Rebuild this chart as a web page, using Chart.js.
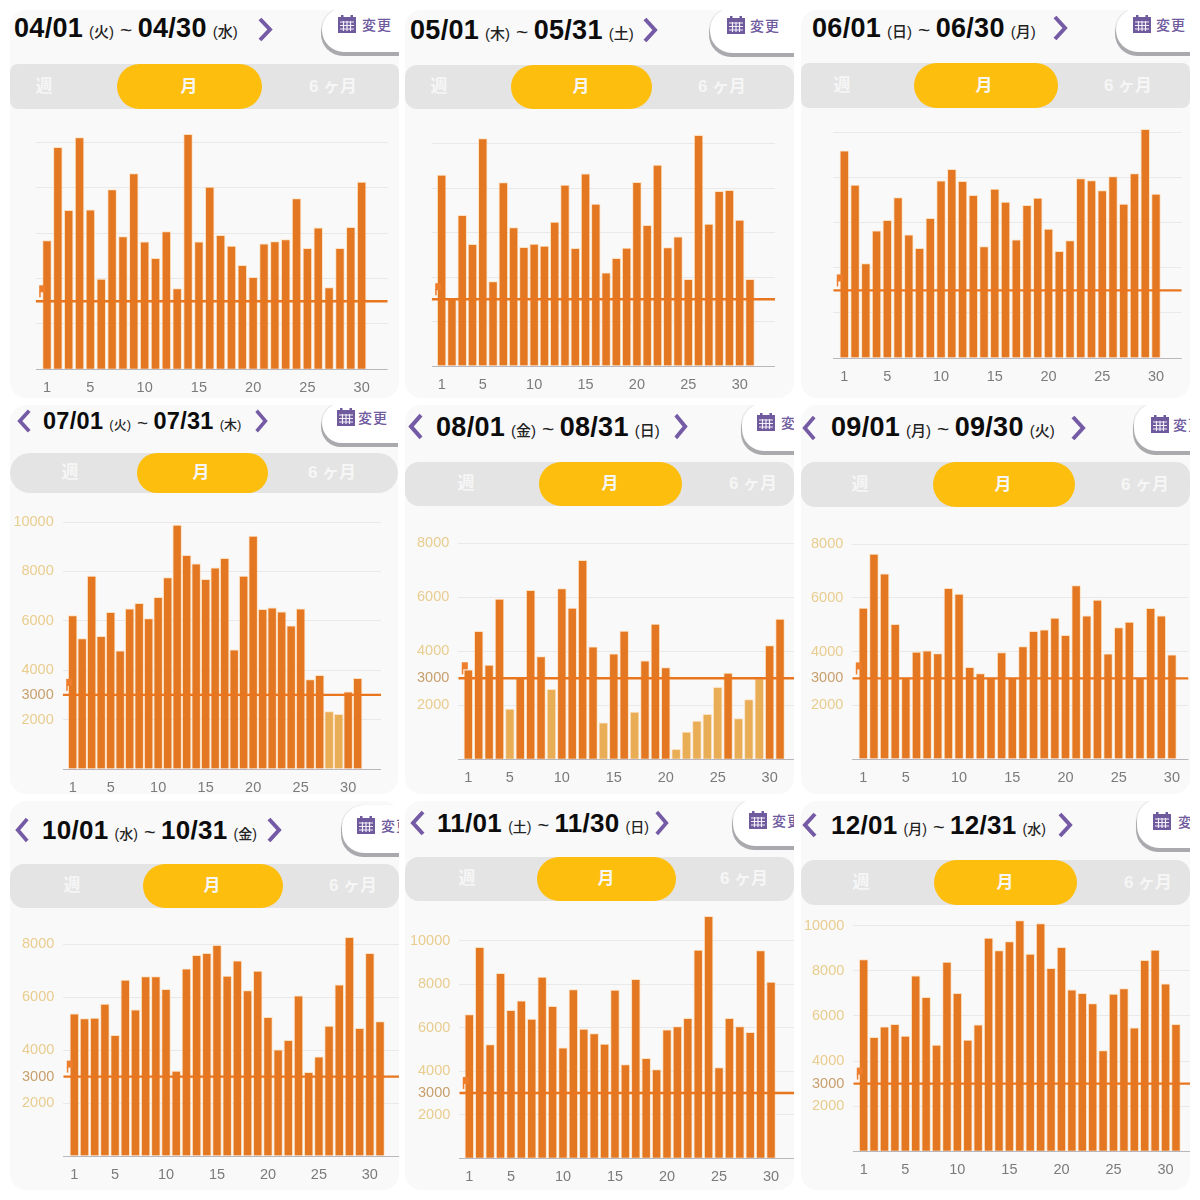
<!DOCTYPE html>
<html>
<head>
<meta charset="utf-8">
<script src="https://cdn.jsdelivr.net/npm/chart.js@4"></script>
<style>
  html, body { margin: 0; padding: 0; background: #fff; }
  body { width: 1200px; height: 1200px; position: relative; overflow: hidden; font-family: "Liberation Sans", "Noto Sans CJK JP", sans-serif; }
  .card { position: absolute; background: #f9f9f9; border-radius: 16px; overflow: hidden; }
  .card > * { position: absolute; }
  .title { white-space: nowrap; color: #0c0c0c; font-weight: 700; letter-spacing: 0.3px; }
  .title .w { font-weight: 500; margin: 0 6px; color: #222; letter-spacing: 0; }
  .title .t { font-weight: 400; color: #222; }
  .tabs { background: #e4e4e4; }
  .pill { background: #fdbe0e; border-radius: 24px; }
  .lbl { color: #f6f6f6; font-size: 17px; transform: translateX(-50%); white-space: nowrap; font-weight: 700; }
  .btn { background: #fff; box-shadow: -1px 4px 0 #aaa9ad, -1px 0 1px #ddd; border-radius: 22px 0 0 22px; }
  .chg { color: #6f5a9e; font-size: 14px; font-weight: 500; white-space: nowrap; letter-spacing: 1px; }
  canvas { left: 0; top: 0; }
</style>
</head>
<body>
<script>
// steps per day
const apr = [5680,9790,7010,10220,7030,3985,7930,5850,8630,5620,4900,6070,3560,10370,5620,8040,5910,5440,4590,4060,5540,5630,5720,7530,5340,6240,3600,5340,6260,8260]
const may = [8580,3020,6770,5470,10220,3790,8240,6220,5330,5480,5390,6470,8130,5290,8640,7280,4190,4840,5300,8250,6320,9030,5320,5800,3900,10370,6380,7850,7900,6560,3900]
const jun = [9190,7680,4190,5650,6110,7120,5470,4870,6200,7860,8370,7840,7220,4940,7500,6920,5240,6780,7100,5720,4730,5210,7960,7870,7430,8050,6830,8180,10150,7280]
const jul = [6210,5280,7810,5370,6340,4780,6480,6710,6090,6950,7750,9880,8650,8310,7680,8140,8530,4820,7810,9430,6460,6530,6360,5800,6480,3620,3790,2320,2210,3120,3670]
const aug = [3310,4740,3490,5930,1860,3000,6260,3800,2590,6320,5600,7370,4170,1350,3910,4750,1750,3650,5010,3400,370,1010,1420,1670,2670,3190,1510,2210,2990,4210,5190]
const sep = [5620,7630,6890,5010,3040,3980,4030,3920,6350,6140,3410,3180,3040,3960,3040,4180,4750,4810,5240,4600,6450,5330,5910,3910,4890,5100,3040,5610,5330,3880]
const oct = [5370,5190,5210,5740,4560,6650,5520,6780,6780,6300,3210,7070,7580,7660,7960,6800,7370,6250,6990,5240,4010,4370,6050,3160,3750,4910,6470,8260,4820,7660,5080]
const nov = [6600,9690,5220,8500,6800,7230,6400,8330,6980,5080,7750,5930,5730,5250,7730,4300,8220,4590,4070,5900,6050,6430,9560,11120,4170,6430,6050,5790,9540,8090]
const dec = [8490,5050,5520,5630,5100,7770,6820,4710,8380,7000,4930,5600,9450,8890,9290,10220,8740,10090,8110,9040,7150,7000,6540,4460,6970,7210,5470,8460,8920,7420,5630]

const months = [apr, may, jun, jul, aug, sep, oct, nov, dec]
const starts = ['04/01','05/01','06/01','07/01','08/01','09/01','10/01','11/01','12/01']
const ends = ['04/30','05/31','06/30','07/31','08/31','09/30','10/31','11/30','12/31']
const startDays = ['火','木','日','火','金','月','水','土','月']
const endDays = ['水','土','月','木','日','火','金','日','水']
const dayTicks = [1, 5, 10, 15, 20, 25, 30]
const stepTicks = [0, 2000, 3000, 4000, 6000, 8000, 10000]
const goal = 3000

// where each panel sits, in page pixels
const layouts = [
  {card:[10,10,389,388], fs:27, tx:14, ty:28, prev:null, next:[257,17,273,42], btn:[322,8,77,44], ic:[338,15], chg:362, tabs:[64,45,8], pill:[117,262], tl:[44,189,333], plot:[35.7,387.7,369.3,22.67], yMax:11000, x1:141/3, dx:32.55/3, labels:false},
  {card:[405,10,389,388], fs:27, tx:410, ty:30, prev:null, next:[642,17,658,43], btn:[710,8,84,45], ic:[727,16], chg:750, tabs:[65,44,12], pill:[511,652], tl:[439,581,722], plot:[431.7,775,366,22.25], yMax:11000, x1:400+125/3, dx:30.83/3, labels:false},
  {card:[801,10,389,388], fs:27, tx:812, ty:28, prev:null, next:[1052,15,1068,41], btn:[1116,8,74,44], ic:[1133,15], chg:1156, tabs:[63,45,8], pill:[914,1058], tl:[842,984,1128], plot:[833.3,1181.7,358,22.53], yMax:10600, x1:800+133/3, dx:32.24/3, labels:false},
  {card:[10,405,388,389], fs:23.5, tx:43, ty:421, prev:[17,409,32,433], next:[254,409,268,433], btn:[322,403,76,40], ic:[337,408], chg:358, tabs:[453,40,20], pill:[137,268], tl:[70,201,332], plot:[62.7,381,769,24.7], yMax:10300, x1:218/3, dx:28.5/3, labels:true},
  {card:[405,405,389,389], fs:27, tx:436, ty:427, prev:[408,413,424,440], next:[673,413,688,440], btn:[742,403,52,48], ic:[757,413], chg:781, tabs:[462,44,14], pill:[539,682], tl:[466,610,753], plot:[458.3,794.3,759.3,27], yMax:8500, x1:400+205/3, dx:31.2/3, labels:true},
  {card:[801,405,389,389], fs:27, tx:831, ty:427, prev:[802,415,817,441], next:[1070,415,1086,441], btn:[1134,403,56,48], ic:[1151,415], chg:1173, tabs:[462,45,14], pill:[933,1075], tl:[860,1003,1145], plot:[852.3,1190,759,26.87], yMax:8500, x1:800+190/3, dx:32.07/3, labels:true},
  {card:[10,801,389,389], fs:26, tx:42, ty:830, prev:[15,817,30,843], next:[266,817,282,843], btn:[342,805,57,48], ic:[357,816], chg:381, tabs:[864,44,14], pill:[143,283], tl:[72,212,353], plot:[63.3,399,1156,26.47], yMax:8500, x1:223/3, dx:30.57/3, labels:true},
  {card:[405,801,389,389], fs:26, tx:437, ty:823, prev:[410,810,426,836], next:[654,810,669,836], btn:[733,799,61,47], ic:[749,811], chg:772, tabs:[857,44,14], pill:[537,676], tl:[467,606,744], plot:[459.3,794.3,1158.3,21.77], yMax:11500, x1:400+208/3, dx:31.24/3, labels:true},
  {card:[801,801,389,389], fs:26, tx:831, ty:825, prev:[802,812,818,838], next:[1057,812,1073,838], btn:[1137,799,53,49], ic:[1153,812], chg:1178, tabs:[860,45,14], pill:[934,1077], tl:[861,1005,1148], plot:[853.3,1190,1151.3,22.57], yMax:10600, x1:800+191/3, dx:31.23/3, labels:true}
]

const calendarSvg = '<svg width="18" height="18" viewBox="0 0 18 18"><rect x="0" y="2" width="18" height="16" fill="#6f5a9e"/><rect x="3" y="0" width="2.5" height="4" fill="#6f5a9e"/><rect x="12.5" y="0" width="2.5" height="4" fill="#6f5a9e"/><path d="M2 7h14M2 10.5h14M2 14h14M5.5 6v10M9 6v10M12.5 6v10" stroke="#f2eef8" stroke-width="1.2" fill="none"/></svg>'

function put(card, box, className, html, left, top, css) {
  const el = document.createElement('div')
  el.className = className
  el.innerHTML = html || ''
  el.style.left = (left - box[0]) + 'px'
  el.style.top = (top - box[1]) + 'px'
  Object.assign(el.style, css || {})
  card.appendChild(el)
  return el
}

function chevron(card, box, r, flip) {
  const pts = flip ? '13,2 3,13 13,24' : '3,2 13,13 3,24'
  const w = r[2] - r[0], h = r[3] - r[1]
  put(card, box, '', `<svg width="${w}" height="${h}" viewBox="0 0 16 26" preserveAspectRatio="none"><polyline points="${pts}" fill="none" stroke="#755ba5" stroke-width="4"/></svg>`, r[0], r[1])
}

// little flag that sits just over the goal line at the left of each chart
const flagPlugin = {
  id: 'flag',
  afterDatasetsDraw(chart) {
    const ctx = chart.ctx
    const x = chart.chartArea.left + 3.5
    const y = chart.scales.y.getPixelForValue(goal)
    ctx.save()
    ctx.fillStyle = '#ee7d2c'
    ctx.fillRect(x, y - 16, 6, 7)
    ctx.fillRect(x, y - 10, 1.5, 6)
    ctx.restore()
  }
}

months.forEach(function(values, i) {
  const lay = layouts[i]
  const box = lay.card
  const card = document.createElement('div')
  card.className = 'card'
  card.style.cssText = `left:${box[0]}px;top:${box[1]}px;width:${box[2]}px;height:${box[3]}px`
  document.body.appendChild(card)

  const wf = Math.round(lay.fs * 0.55)
  put(card, box, 'title', `${starts[i]}<span class="w" style="font-size:${wf}px">(${startDays[i]})</span><span class="t" style="font-size:${wf + 6}px">~</span><span style="margin-left:5px">${ends[i]}</span><span class="w" style="font-size:${wf}px">(${endDays[i]})</span>`, lay.tx, lay.ty - 20, {fontSize: lay.fs + 'px', height: '40px', lineHeight: '40px'})
  if (lay.prev) chevron(card, box, lay.prev, true)
  chevron(card, box, lay.next, false)

  const b = lay.btn
  put(card, box, 'btn', '', b[0], b[1], {width: (b[2] + 24) + 'px', height: b[3] + 'px'})
  put(card, box, '', calendarSvg, lay.ic[0], lay.ic[1])
  put(card, box, 'chg', '変更', lay.chg, lay.ic[1] - 1)

  const t = lay.tabs
  put(card, box, 'tabs', '', box[0], t[0], {width: box[2] + 'px', height: t[1] + 'px', borderRadius: t[2] + 'px'})
  put(card, box, 'pill', '', lay.pill[0], t[0], {width: (lay.pill[1] - lay.pill[0]) + 'px', height: t[1] + 'px'})
  const tabNames = ['週', '月', '6 ヶ月']
  tabNames.forEach(function(name, k) {
    put(card, box, 'lbl', name, lay.tl[k], t[0], {height: t[1] + 'px', lineHeight: t[1] + 'px'})
  })

  const canvas = document.createElement('canvas')
  canvas.width = box[2]
  canvas.height = box[3]
  canvas.style.width = box[2] + 'px'
  canvas.style.height = box[3] + 'px'
  card.appendChild(canvas)

  const [left, right, base, unit] = lay.plot
  const xMin = 1 + (left - lay.x1) / lay.dx
  const xMax = 1 + (right - lay.x1) / lay.dx
  const plotTop = base - lay.yMax / 1000 * unit

  new Chart(canvas, {
    data: {
      datasets: [
        {
          type: 'line',
          order: 0,
          data: [{x: xMin, y: goal}, {x: xMax, y: goal}],
          borderColor: '#e9761f',
          borderWidth: 2.4,
          pointRadius: 0
        },
        {
          type: 'bar',
          order: 1,
          data: values.map((v, d) => ({x: d + 1, y: v})),
          backgroundColor: values.map(v => v < goal ? '#e8ad55' : '#e37722'),
          borderColor: 'rgba(255,205,150,0.55)',
          borderWidth: 1,
          barThickness: 8.8
        }
      ]
    },
    plugins: [flagPlugin],
    options: {
      responsive: false,
      animation: false,
      events: [],
      layout: {
        padding: {left: 0, top: plotTop - box[1], right: box[0] + box[2] - right, bottom: 0}
      },
      plugins: {legend: {display: false}, tooltip: {enabled: false}},
      scales: {
        x: {
          type: 'linear',
          offset: false,
          min: xMin,
          max: xMax,
          grid: {display: false, drawTicks: false},
          border: {display: false},
          afterBuildTicks(scale) {
            scale.ticks = dayTicks.map(v => ({value: v}))
          },
          afterFit(scale) {
            scale.height = box[1] + box[3] - base
          },
          ticks: {
            autoSkip: false,
            maxRotation: 0,
            padding: 10,
            color: '#7b7b7b',
            font: {family: 'Liberation Sans', size: 14.5},
            callback: v => String(v)
          }
        },
        y: {
          min: 0,
          max: lay.yMax,
          border: {display: false},
          grid: {
            drawTicks: false,
            lineWidth: 1,
            color: c => c.tick.value === 0 ? '#b9b6bc' : '#e9e9e9'
          },
          afterBuildTicks(scale) {
            scale.ticks = stepTicks.filter(v => v <= lay.yMax).map(v => ({value: v}))
          },
          afterFit(scale) {
            scale.width = left - box[0]
          },
          ticks: {
            padding: 9,
            color: c => c.tick.value === goal ? '#c79f6c' : '#e9cd8f',
            font: {family: 'Liberation Sans', size: 14.5},
            callback: v => (lay.labels && v > 0) ? String(v) : ''
          }
        }
      }
    }
  })
})
</script>
</body>
</html>
